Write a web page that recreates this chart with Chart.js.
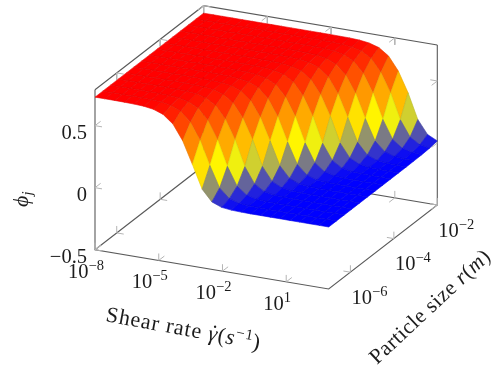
<!DOCTYPE html>
<html>
<head>
<meta charset="utf-8">
<style>
html,body{margin:0;padding:0;background:#fff}
canvas{display:block}
</style>
<script src="https://cdn.jsdelivr.net/npm/chart.js@4"></script>
</head>
<body>
<canvas id="myChart" width="499" height="373"></canvas>
<script>
// sample positions, log10 of shear rate and particle size
var gammaExp = [-8,-7.542,-7.083,-6.625,-6.167,-5.708,-5.25,-4.792,-4.333,-3.875,-3.417,-2.958,-2.5,-2.042,-1.583,-1.125,-0.667,-0.208,0.25,0.708,1.167,1.625,2.083,2.542,3]
var rExp = [-7,-6.643,-6.286,-5.929,-5.571,-5.214,-4.857,-4.5,-4.143,-3.786,-3.429,-3.071,-2.714,-2.357,-2]

// phi_j, one row per particle size
var phiRows = [
[.73,.73,.73,.729,.727,.723,.711,.683,.619,.498,.32,.133,.044,.013,.004,.001,0,0,0,0,0,0,0,0,0],
[.73,.73,.73,.73,.729,.726,.721,.707,.673,.599,.467,.276,.108,.035,.01,.003,.001,0,0,0,0,0,0,0,0],
[.73,.73,.73,.73,.73,.728,.726,.719,.702,.663,.578,.434,.234,.087,.027,.008,.002,.001,0,0,0,0,0,0,0],
[.73,.73,.73,.73,.73,.729,.728,.725,.717,.697,.65,.553,.4,.196,.07,.021,.006,.002,.001,0,0,0,0,0,0],
[.73,.73,.73,.73,.73,.73,.729,.728,.724,.714,.69,.635,.527,.365,.163,.055,.017,.005,.001,.001,0,0,0,0,0],
[.73,.73,.73,.73,.73,.73,.73,.729,.727,.723,.711,.683,.619,.498,.32,.133,.044,.013,.004,.001,0,0,0,0,0],
[.73,.73,.73,.73,.73,.73,.73,.73,.729,.726,.721,.707,.673,.599,.467,.276,.108,.035,.01,.003,.001,0,0,0,0],
[.73,.73,.73,.73,.73,.73,.73,.73,.73,.728,.726,.719,.702,.663,.578,.434,.234,.087,.027,.008,.002,.001,0,0,0],
[.73,.73,.73,.73,.73,.73,.73,.73,.73,.729,.728,.725,.717,.697,.65,.553,.4,.196,.07,.021,.006,.002,.001,0,0],
[.73,.73,.73,.73,.73,.73,.73,.73,.73,.73,.729,.728,.724,.714,.69,.635,.527,.365,.163,.055,.017,.005,.001,.001,0],
[.73,.73,.73,.73,.73,.73,.73,.73,.73,.73,.73,.729,.727,.723,.711,.683,.619,.498,.32,.133,.044,.013,.004,.001,0],
[.73,.73,.73,.73,.73,.73,.73,.73,.73,.73,.73,.73,.729,.726,.721,.707,.673,.599,.467,.276,.108,.035,.01,.003,.001],
[.73,.73,.73,.73,.73,.73,.73,.73,.73,.73,.73,.73,.73,.728,.726,.719,.702,.663,.578,.434,.234,.087,.027,.008,.002],
[.73,.73,.73,.73,.73,.73,.73,.73,.73,.73,.73,.73,.73,.729,.728,.725,.717,.697,.65,.553,.4,.196,.07,.021,.006],
[.73,.73,.73,.73,.73,.73,.73,.73,.73,.73,.73,.73,.73,.73,.729,.728,.724,.714,.69,.635,.527,.365,.163,.055,.017]
]

// ticks
var gammaTicks = [-8,-5,-2,1]
var gammaTickLabels = ['−8','−5','−2','1']
var rTicks = [-6,-4,-2]
var rTickLabels = ['−6','−4','−2']
var zTicks = [-0.5,0,0.5]
var zTickLabels = ['−0.5','0','0.5']

// axis limits
var gammaRange = [-8,3]
var rRange = [-7,-2]
var zRange = [-0.5,0.79]

// colormap/hot
var hotStops = [[0,0,255],[255,255,0],[255,128,0],[255,0,0]]

var SERIF = '"Liberation Serif"'

// the 3D box onto the chart's x/y scales
function project(g, r, z){
    var a = (g - gammaRange[0]) / (gammaRange[1] - gammaRange[0])
    var b = (r - rRange[0]) / (rRange[1] - rRange[0])
    var c = (z - zRange[0]) / (zRange[1] - zRange[0])
    return { x: 95 + a * 233.7 + b * 108.6, y: 249.7 + a * 39.3 - b * 84 - c * 160 }
}

function hotColor(v, dark){
    var t = Math.max(0, Math.min(1, v / 0.73)) * 3
    var k = Math.min(2, Math.floor(t))
    var f = t - k
    var c = [0,1,2].map(function(n){
        return Math.round((hotStops[k][n] + (hotStops[k+1][n] - hotStops[k][n]) * f) * dark)
    })
    return 'rgb(' + c.join(',') + ')'
}

function polyline(points, color, width){
    return { data: points, showLine: true, fill: false, borderColor: color, borderWidth: width,
             pointRadius: 0, tension: 0 }
}

function buildSurface(){
    var cells = []
    // front rows first, the first dataset ends up on top
    for (var j = 0; j < rExp.length - 1; j++) {
        for (var i = gammaExp.length - 2; i >= 0; i--) {
            var z = [phiRows[j][i], phiRows[j][i+1], phiRows[j+1][i+1], phiRows[j+1][i]]
            var mean = (z[0] + z[1] + z[2] + z[3]) / 4
            var p0 = project(gammaExp[i], rExp[j], z[0])
            var pts = [p0, project(gammaExp[i+1], rExp[j], z[1]),
                       project(gammaExp[i+1], rExp[j+1], z[2]), project(gammaExp[i], rExp[j+1], z[3]), p0]
            cells.push({ data: pts, showLine: true, fill: 'shape', backgroundColor: hotColor(mean, 1),
                         borderColor: hotColor(mean, 0.9), borderWidth: 0.6, pointRadius: 0, tension: 0 })
        }
    }
    return cells
}

function buildAxes(){
    var sets = []
    var g0 = gammaRange[0], g1 = gammaRange[1], r0 = rRange[0], r1 = rRange[1], z0 = zRange[0], z1 = zRange[1]
    var boxColor = '#5a5a5a'
    var tickColor = '#b4b4b4'
    // tick size in data units, about 7px on screen
    var dg = 0.33, dr = 0.26, dz = 0.056

    function tick(g, r, z, gd, rd, zd){
        sets.push(polyline([project(g, r, z), project(g + gd, r + rd, z + zd)], tickColor, 1))
    }
    gammaTicks.forEach(function(g){
        tick(g, r0, z0, 0, dr, 0); tick(g, r0, z0, 0, 0, dz)
        tick(g, r1, z0, 0, -dr, 0); tick(g, r1, z0, 0, 0, dz)
        tick(g, r1, z1, 0, -dr, 0); tick(g, r1, z1, 0, 0, -dz)
    })
    rTicks.forEach(function(r){
        tick(g0, r, z0, dg, 0, 0); tick(g0, r, z0, 0, 0, dz)
        tick(g0, r, z1, dg, 0, 0); tick(g0, r, z1, 0, 0, -dz)
        tick(g1, r, z0, -dg, 0, 0); tick(g1, r, z0, 0, 0, dz)
    })
    zTicks.forEach(function(z){
        tick(g0, r0, z, dg, 0, 0); tick(g0, r0, z, 0, dr, 0)
        tick(g1, r1, z, -dg, 0, 0); tick(g1, r1, z, 0, -dr, 0)
    })

    // box, the front top edges are not drawn
    sets.push(polyline([project(g0,r0,z1), project(g0,r0,z0), project(g1,r0,z0), project(g1,r1,z0), project(g1,r1,z1)], boxColor, 1.1))
    sets.push(polyline([project(g0,r0,z1), project(g0,r1,z1), project(g1,r1,z1)], boxColor, 1.1))
    sets.push(polyline([project(g0,r0,z0), project(g0,r1,z0), project(g1,r1,z0)], boxColor, 1.1))
    sets.push(polyline([project(g0,r1,z0), project(g0,r1,z1)], boxColor, 1.1))
    return sets
}

// text made of several runs, for superscripts and italics
function drawRuns(ctx, runs, x, y, angle, center, spacing){
    ctx.save()
    ctx.translate(x, y)
    ctx.rotate(angle)
    ctx.fillStyle = '#1c1c1c'
    ctx.textBaseline = 'alphabetic'
    ctx.textAlign = 'left'
    ctx.letterSpacing = (spacing || 0) + 'px'
    var total = 0
    runs.forEach(function(run){
        ctx.font = (run.italic ? 'italic ' : '') + run.size + 'px ' + SERIF
        if (!run.over) total += ctx.measureText(run.text).width
    })
    var cx = center ? -total / 2 : 0
    runs.forEach(function(run){
        ctx.font = (run.italic ? 'italic ' : '') + run.size + 'px ' + SERIF
        // an accent sits on the run before it and takes no room
        ctx.fillText(run.text, cx + (run.over || 0), run.dy || 0)
        if (!run.over) cx += ctx.measureText(run.text).width
    })
    ctx.restore()
}

function powerRuns(label){
    return [{ text: '10', size: 20.5 }, { text: label, size: 14.5, dy: -8 }]
}

var textPlugin = {
    id: 'axisText',
    afterDraw: function(chart){
        var ctx = chart.ctx
        zTicks.forEach(function(z, n){
            var p = project(gammaRange[0], rRange[0], z)
            ctx.save()
            ctx.font = '20.5px ' + SERIF
            ctx.fillStyle = '#1c1c1c'
            ctx.textAlign = 'right'
            ctx.fillText(zTickLabels[n], p.x - 8, p.y + 13.5)
            ctx.restore()
        })
        gammaTicks.forEach(function(g, n){
            var p = project(g, rRange[0], zRange[0])
            drawRuns(ctx, powerRuns(gammaTickLabels[n]), p.x - 9, p.y + 28, 0, true)
        })
        rTicks.forEach(function(r, n){
            var p = project(gammaRange[1], r, zRange[0])
            drawRuns(ctx, powerRuns(rTickLabels[n]), p.x + 19, p.y + 31.5, 0, true)
        })
        drawRuns(ctx, [
            { text: 'Shear rate ', size: 22 },
            { text: 'γ', size: 22, italic: true },
            { text: '˙', size: 22, over: -8, dy: -1 },
            { text: '(', size: 22 },
            { text: 's', size: 22, italic: true },
            { text: '−1', size: 15, dy: -8 },
            { text: ')', size: 22 }
        ], 105, 321, 10.5 * Math.PI / 180, false, 0.9)
        drawRuns(ctx, [
            { text: 'Particle size ', size: 21.5 },
            { text: 'r', size: 21.5, italic: true },
            { text: '(', size: 21.5 },
            { text: 'm', size: 21.5, italic: true },
            { text: ')', size: 21.5 }
        ], 377, 365, -43 * Math.PI / 180, false, 0.5)
        drawRuns(ctx, [
            { text: 'ϕ', size: 22, italic: true },
            { text: 'j', size: 15, italic: true, dy: 4 }
        ], 28, 207, -Math.PI / 2, false)
    }
}

function buildGraph(){
    var ctx = document.getElementById('myChart').getContext('2d')
    new Chart(ctx, {
        type: 'scatter',
        data: { datasets: buildSurface().concat(buildAxes()) },
        options: {
            responsive: false,
            animation: false,
            events: [],
            layout: { padding: 0 },
            plugins: { legend: { display: false }, tooltip: { enabled: false } },
            scales: {
                x: { type: 'linear', min: 0, max: 499, display: false },
                y: { type: 'linear', min: 0, max: 373, reverse: true, display: false }
            }
        },
        plugins: [textPlugin]
    })
}

buildGraph()
</script>
</body>
</html>
